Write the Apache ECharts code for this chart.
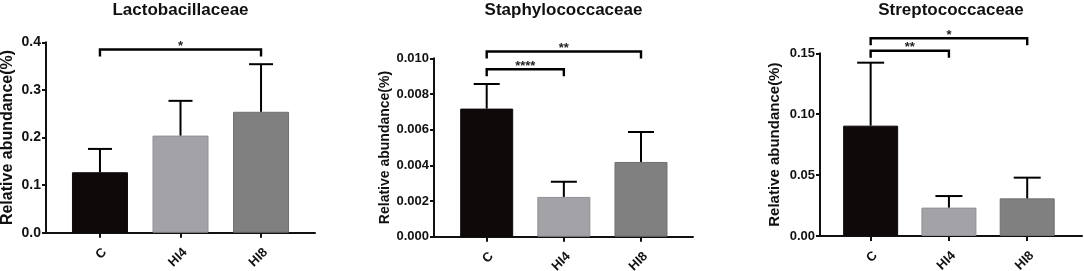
<!DOCTYPE html>
<html>
<head>
<meta charset="utf-8">
<script src="https://cdn.jsdelivr.net/npm/echarts@6/dist/echarts.min.js"></script>
<style>
html,body{margin:0;padding:0;background:#fff;}
#chart{width:1084px;height:271px;}
</style>
</head>
<body>
<div id="chart"></div>
<script>
// ---------- DATA ----------
var categories = ['C', 'HI4', 'HI8'];
var titles = ['Lactobacillaceae', 'Staphylococcaceae', 'Streptococcaceae'];
var yAxisTitle = 'Relative abundance(%)';

var lactoMean = [0.127, 0.204, 0.254];
var lactoSD   = [0.049, 0.073, 0.100];
var staphMean = [0.00718, 0.00223, 0.00419];
var staphSD   = [0.00138, 0.00085, 0.00168];
var streptoMean = [0.0906, 0.0233, 0.0309];
var streptoSD   = [0.0517, 0.0095, 0.0170];

var lactoYMax = 0.4, lactoYStep = 0.1, lactoDecimals = 1;
var staphYMax = 0.010, staphYStep = 0.002, staphDecimals = 3;
var streptoYMax = 0.15, streptoYStep = 0.05, streptoDecimals = 2;

// significance brackets: [fromIndex, toIndex, yValue]
var lactoSig = [[0, 2, 0.385]];
var lactoSigLabels = ['*'];
var staphSig = [[0, 2, 0.01038], [0, 1, 0.00939]];
var staphSigLabels = ['**', '****'];
var streptoSig = [[0, 2, 0.1623], [0, 1, 0.1521]];
var streptoSigLabels = ['*', '**'];

// ---------- STYLE ----------
var FONT = "'Liberation Sans', Arial, sans-serif";
var barColors = ['#0e0a0a', '#a3a2a7', '#808080'];
var barBorders = ['#0e0a0a', '#909095', '#707070'];

var panels = [
  {mean: lactoMean, sd: lactoSD, ymax: lactoYMax, step: lactoYStep, dec: lactoDecimals, sig: lactoSig, sigL: lactoSigLabels,
   grid: {left: 46, top: 42.3, width: 269, height: 190.4}, xmin: -0.67, xmax: 2.67, barW: 56, cap: 24, yFont: 14, nameFont: 16, nameGap: 30},
  {mean: staphMean, sd: staphSD, ymax: staphYMax, step: staphYStep, dec: staphDecimals, sig: staphSig, sigL: staphSigLabels,
   grid: {left: 434, top: 58.3, width: 259, height: 178.4}, xmin: -0.683, xmax: 2.674, barW: 53, cap: 26, yFont: 13, nameFont: 14, nameGap: 40},
  {mean: streptoMean, sd: streptoSD, ymax: streptoYMax, step: streptoYStep, dec: streptoDecimals, sig: streptoSig, sigL: streptoSigLabels,
   grid: {left: 820, top: 53.3, width: 262, height: 182.7}, xmin: -0.647, xmax: 2.70, barW: 55, cap: 27, yFont: 13, nameFont: 15, nameGap: 38}
];

var option = {
  backgroundColor: '#fff',
  animation: false,
  title: [], grid: [], xAxis: [], yAxis: [], series: []
};

panels.forEach(function (p, k) {
  option.title.push({
    text: titles[k],
    left: p.grid.left + p.grid.width / 2,
    top: 2,
    padding: 0,
    textAlign: 'center',
    textStyle: {fontFamily: FONT, fontWeight: 'bold', fontSize: 17, color: '#111'}
  });
  option.grid.push({left: p.grid.left, top: p.grid.top, width: p.grid.width, height: p.grid.height,
                    containLabel: false, outerBoundsMode: 'none'});
  option.xAxis.push({
    type: 'value', gridIndex: k, min: p.xmin, max: p.xmax,
    splitLine: {show: false},
    axisLine: {show: true, onZero: false, lineStyle: {color: '#111', width: 2}},
    axisTick: {show: true, length: 5, lineStyle: {color: '#111', width: 2}, customValues: [0, 1, 2]},
    axisLabel: {
      show: true, rotate: 45, margin: 13, customValues: [0, 1, 2],
      align: 'right', verticalAlign: 'top',
      fontFamily: FONT, fontWeight: 'bold', fontSize: 13, color: '#111',
      formatter: function (v) { return categories[Math.round(v)]; }
    }
  });
  option.yAxis.push({
    type: 'value', gridIndex: k, min: 0, max: p.ymax, interval: p.step,
    name: yAxisTitle, nameLocation: 'middle', nameGap: p.nameGap,
    nameTextStyle: {fontFamily: FONT, fontWeight: 'bold', fontSize: p.nameFont, color: '#111'},
    splitLine: {show: false},
    axisLine: {show: true, onZero: false, lineStyle: {color: '#111', width: 2}},
    axisTick: {show: true, length: 4, lineStyle: {color: '#111', width: 2}},
    axisLabel: {
      margin: 5, fontFamily: FONT, fontWeight: 'bold', fontSize: p.yFont, color: '#111',
      formatter: function (v) { return v.toFixed(p.dec); }
    }
  });
  option.series.push({
    type: 'bar', xAxisIndex: k, yAxisIndex: k, barWidth: p.barW,
    data: p.mean.map(function (v, i) {
      return {value: [i, v], itemStyle: {color: barColors[i], borderColor: barBorders[i], borderWidth: 1}};
    })
  });
  option.series.push({
    type: 'custom', xAxisIndex: k, yAxisIndex: k, z: 5,
    encode: {x: 0, y: 1},
    data: p.mean.map(function (v, i) { return [i, v, p.sd[i]]; }),
    renderItem: function (params, api) {
      var x = api.value(0), m = api.value(1), s = api.value(2);
      var p0 = api.coord([x, m]), p1 = api.coord([x, m + s]);
      var st = {stroke: '#000', lineWidth: 2};
      return {type: 'group', children: [
        {type: 'line', shape: {x1: p0[0], y1: p0[1], x2: p1[0], y2: p1[1]}, style: st},
        {type: 'line', shape: {x1: p1[0] - p.cap / 2, y1: p1[1], x2: p1[0] + p.cap / 2, y2: p1[1]}, style: st}
      ]};
    }
  });
  option.series.push({
    type: 'custom', xAxisIndex: k, yAxisIndex: k, z: 6, clip: false,
    encode: {x: 0, y: 2},
    data: p.sig,
    renderItem: function (params, api) {
      var a = api.coord([api.value(0), api.value(2)]);
      var b = api.coord([api.value(1), api.value(2)]);
      var drop = 7;
      return {type: 'group', children: [
        {type: 'polyline', shape: {points: [[a[0], a[1] + drop], [a[0], a[1]], [b[0], b[1]], [b[0], b[1] + drop]]},
         style: {stroke: '#000', lineWidth: 2.4, fill: null}},
        {type: 'text', x: (a[0] + b[0]) / 2, y: a[1] - 3,
         style: {text: p.sigL[params.dataIndex], align: 'center', verticalAlign: 'middle',
                 font: 'bold 13px ' + FONT, fill: '#222'}}
      ]};
    }
  });
});

var chart = echarts.init(document.getElementById('chart'), null, {renderer: 'canvas'});
chart.setOption(option);
</script>
</body>
</html>
